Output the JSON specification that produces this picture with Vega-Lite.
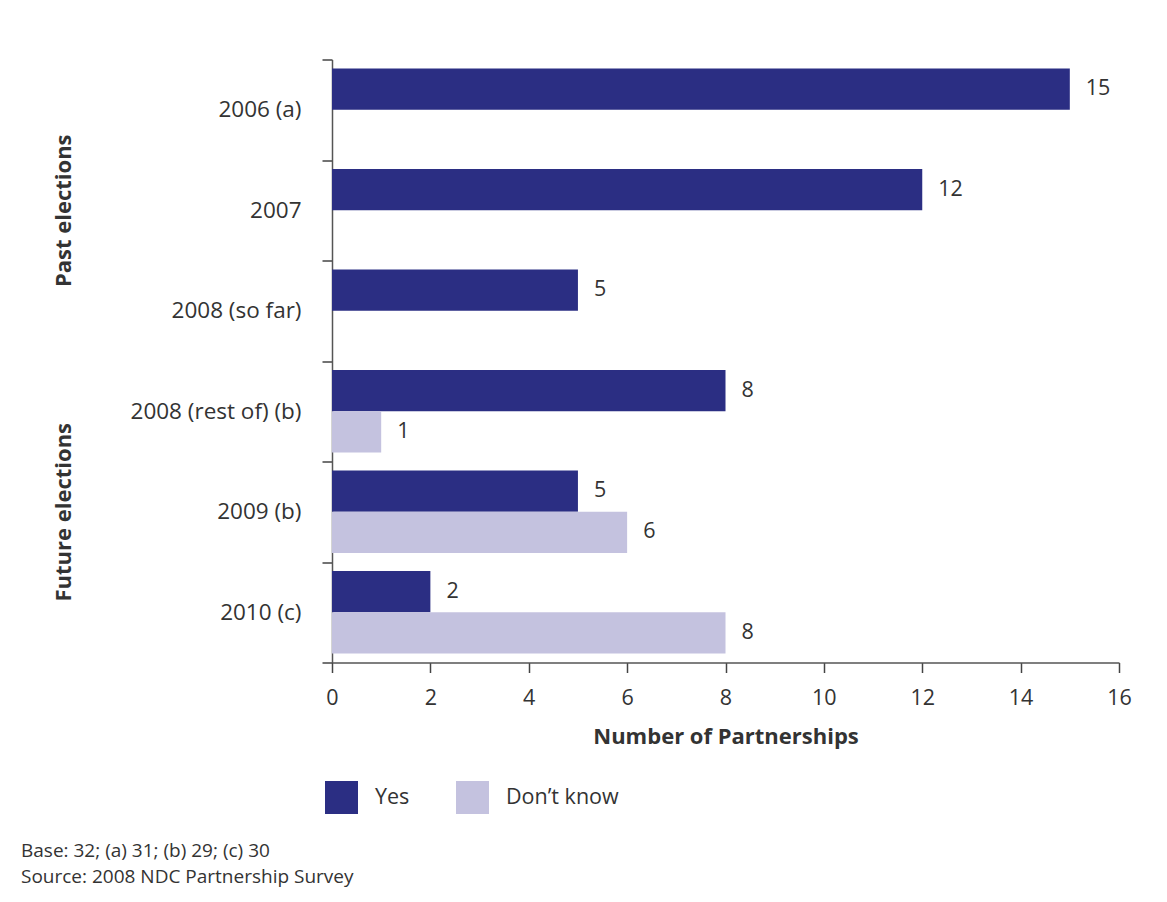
{
  "$schema": "https://vega.github.io/schema/vega-lite/v6.json",
  "width": 787,
  "height": 603,
  "autosize": {"type": "none"},
  "padding": {"left": 332, "top": 59.5, "right": 48, "bottom": 239.5},
  "background": "white",
  "config": {"font": "Open Sans", "view": {"stroke": null}},
  "title": {
    "text": ["Base: 32; (a) 31; (b) 29; (c) 30", "Source: 2008 NDC Partnership Survey"],
    "orient": "bottom",
    "anchor": "start",
    "frame": "group",
    "dx": -311,
    "offset": 28,
    "fontSize": 19,
    "fontWeight": "normal",
    "color": "#333333",
    "lineHeight": 26
  },
  "data": {
    "values": [
      {"group": "Past elections", "category": "2006 (a)", "series": "Yes", "value": 15},
      {"group": "Past elections", "category": "2007", "series": "Yes", "value": 12},
      {"group": "Past elections", "category": "2008 (so far)", "series": "Yes", "value": 5},
      {"group": "Future elections", "category": "2008 (rest of) (b)", "series": "Yes", "value": 8},
      {"group": "Future elections", "category": "2008 (rest of) (b)", "series": "Don’t know", "value": 1},
      {"group": "Future elections", "category": "2009 (b)", "series": "Yes", "value": 5},
      {"group": "Future elections", "category": "2009 (b)", "series": "Don’t know", "value": 6},
      {"group": "Future elections", "category": "2010 (c)", "series": "Yes", "value": 2},
      {"group": "Future elections", "category": "2010 (c)", "series": "Don’t know", "value": 8}
    ]
  },
  "layer": [
    {
      "encoding": {
        "y": {
          "field": "category",
          "type": "nominal",
          "sort": ["2006 (a)", "2007", "2008 (so far)", "2008 (rest of) (b)", "2009 (b)", "2010 (c)"],
          "scale": {"paddingInner": 0, "paddingOuter": 0},
          "axis": {
            "title": null,
            "tickBand": "extent",
            "labelFontSize": 22.5,
            "labelColor": "#333333",
            "labelPadding": 21,
            "labelLimit": 300,
            "tickSize": 10,
            "tickColor": "#444444",
            "tickWidth": 1.5,
            "domainColor": "#555555",
            "domainWidth": 1.5
          }
        },
        "yOffset": {
          "field": "series",
          "type": "nominal",
          "scale": {"domain": ["Yes", "Don’t know"], "paddingInner": 0, "paddingOuter": 0.217}
        },
        "x": {
          "field": "value",
          "type": "quantitative",
          "scale": {"domain": [0, 16]},
          "axis": {
            "title": "Number of Partnerships",
            "values": [0, 2, 4, 6, 8, 10, 12, 14, 16],
            "grid": false,
            "labelFlush": false,
            "labelFontSize": 21.5,
            "labelColor": "#333333",
            "labelPadding": 15,
            "tickSize": 10,
            "tickColor": "#444444",
            "tickWidth": 1.5,
            "domainColor": "#555555",
            "domainWidth": 1.5,
            "titleFontSize": 22,
            "titleFontWeight": "bold",
            "titleColor": "#333333",
            "titlePadding": 17
          }
        }
      },
      "layer": [
        {
          "mark": {"type": "bar"},
          "encoding": {
            "color": {
              "field": "series",
              "type": "nominal",
              "scale": {"domain": ["Yes", "Don’t know"], "range": ["#2b2e83", "#c4c2df"]},
              "legend": {
                "orient": "none",
                "legendX": -7,
                "legendY": 721.5,
                "direction": "horizontal",
                "title": null,
                "symbolType": "square",
                "symbolSize": 1089,
                "symbolStrokeWidth": 0,
                "symbolOpacity": 1,
                "labelFontSize": 21.5,
                "labelColor": "#333333",
                "labelOffset": 17,
                "columnPadding": 46,
                "padding": 0
              }
            }
          }
        },
        {
          "mark": {"type": "text", "align": "left", "baseline": "middle", "dx": 16, "fontSize": 21.5, "color": "#333333"},
          "encoding": {"text": {"field": "value", "type": "quantitative"}}
        }
      ]
    },
    {
      "mark": {"type": "text"},
      "encoding": {
        "y": {
          "field": "group",
          "type": "nominal",
          "sort": ["Past elections", "Future elections"],
          "scale": {"domain": ["Past elections", "Future elections"], "paddingInner": 0, "paddingOuter": 0},
          "axis": {
            "orient": "left",
            "title": null,
            "domain": false,
            "ticks": false,
            "tickSize": 0,
            "labelAngle": -90,
            "labelAlign": "center",
            "labelBaseline": "alphabetic",
            "labelPadding": 262,
            "labelFontSize": 22,
            "labelFontWeight": "bold",
            "labelColor": "#333333"
          }
        },
        "text": {"value": ""}
      }
    }
  ],
  "resolve": {"scale": {"y": "independent"}, "axis": {"y": "independent"}}
}
